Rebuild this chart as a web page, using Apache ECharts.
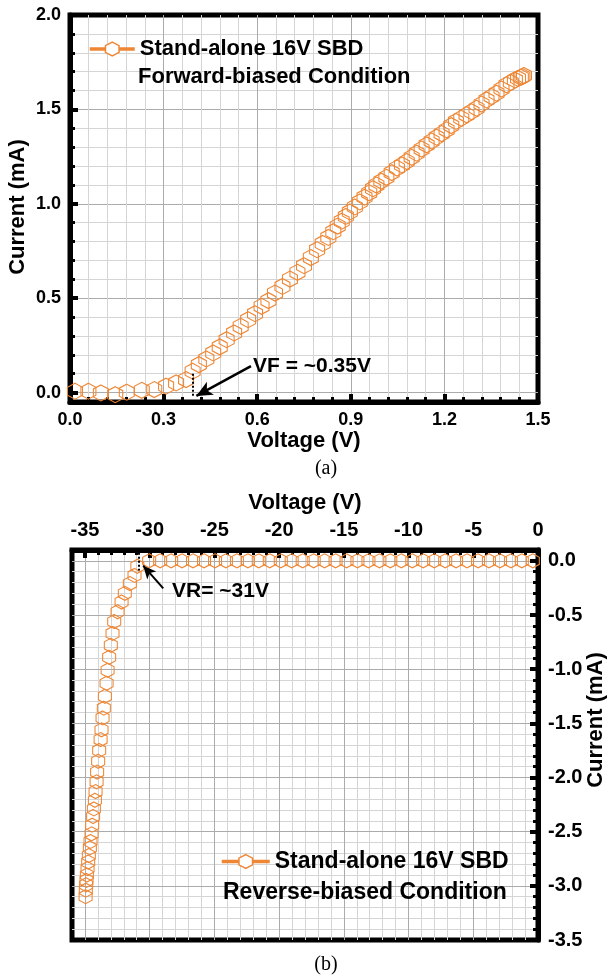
<!DOCTYPE html>
<html><head><meta charset="utf-8">
<script src="https://cdn.jsdelivr.net/npm/echarts@6/dist/echarts.min.js"></script>
<style>html,body{margin:0;padding:0;background:#fff}#c{width:615px;height:979px}</style>
</head><body><div id="c"></div>
<script>
// ---------- DATA ----------
const seriesName = 'Stand-alone 16V SBD';
const fwdCondition = 'Forward-biased Condition';
const revCondition = 'Reverse-biased Condition';

// (a) forward-biased I-V
const fwdVoltage = [0.016,0.059,0.099,0.145,0.182,0.230,0.270,0.308,0.340,0.372,
  0.393,0.413,0.437,0.459,0.480,0.502,0.526,0.547,0.571,0.593,
  0.614,0.636,0.657,0.681,0.705,0.729,0.750,0.772,0.792,0.810,
  0.828,0.844,0.858,0.871,0.884,0.897,0.913,0.929,0.944,0.959,
  0.971,0.982,0.998,1.014,1.031,1.048,1.064,1.079,1.095,1.111,
  1.127,1.143,1.159,1.175,1.191,1.207,1.222,1.237,1.254,1.271,
  1.287,1.303,1.319,1.335,1.351,1.367,1.383,1.399,1.413,1.426,
  1.436,1.445,1.450,1.455];
const fwdCurrent = [0.007,0.007,-0.002,-0.011,0.002,0.012,0.016,0.034,0.051,0.069,
  0.113,0.148,0.178,0.210,0.242,0.280,0.316,0.351,0.386,0.418,
  0.457,0.487,0.527,0.562,0.601,0.637,0.672,0.715,0.757,0.790,
  0.822,0.852,0.882,0.908,0.933,0.957,0.983,1.010,1.035,1.058,
  1.080,1.099,1.120,1.140,1.165,1.189,1.206,1.224,1.246,1.268,
  1.290,1.312,1.332,1.353,1.372,1.392,1.414,1.436,1.453,1.471,
  1.488,1.506,1.528,1.550,1.568,1.586,1.608,1.630,1.643,1.656,
  1.664,1.670,1.674,1.680];

// (b) reverse-biased I-V
const revVoltage = [-34.95,-34.93,-34.91,-34.88,-34.85,-34.80,-34.75,-34.70,-34.62,-34.57,
  -34.49,-34.44,-34.37,-34.31,-34.23,-34.18,-34.10,-34.06,-33.98,-33.90,
  -33.79,-33.72,-33.64,-33.54,-33.46,-33.33,-33.25,-33.13,-33.00,-32.87,
  -32.74,-32.48,-32.17,-31.92,-31.53,-31.17,-30.95,
  -30.04,-29.19,-28.34,-27.50,-26.65,-25.80,-24.95,-24.11,-23.26,-22.41,
  -21.57,-20.72,-19.87,-19.03,-18.18,-17.33,-16.49,-15.64,-14.79,-13.95,
  -13.10,-12.25,-11.41,-10.56,-9.71,-8.87,-8.02,-7.17,-6.33,-5.48,
  -4.63,-3.79,-2.94,-2.09,-1.25,-0.40];
const revCurrent = [-3.10,-3.04,-2.99,-2.95,-2.90,-2.84,-2.78,-2.72,-2.65,-2.59,
  -2.52,-2.44,-2.36,-2.29,-2.21,-2.13,-2.04,-1.95,-1.85,-1.75,
  -1.65,-1.56,-1.45,-1.36,-1.25,-1.13,-1.01,-0.89,-0.78,-0.67,
  -0.56,-0.47,-0.38,-0.30,-0.21,-0.135,-0.05,
  0,0,0,0,0,0,0,0,0,0,
  0,0,0,0,0,0,0,0,0,0,
  0,0,0,0,0,0,0,0,0,0,
  0,0,0,0,0,0];

// tick values
const fwdYTicks = [0, 0.5, 1.0, 1.5, 2.0];
const fwdYMinorTicks = [0,0.1,0.2,0.3,0.4,0.5,0.6,0.7,0.8,0.9,1.0,1.1,1.2,1.3,1.4,1.5,1.6,1.7,1.8,1.9,2.0];
const revXTicks = [-35, -30, -25, -20, -15, -10, -5, 0];
const revYTicks = [-3.5, -3.0, -2.5, -2.0, -1.5, -1.0, -0.5, 0.0];

// annotations (data coordinates)
const vfDotted = [[0.393, 0.10], [0.393, -0.025]];
const vfArrow = [[0.580, 0.140], [0.405, -0.018]];
const vrDotted = [[-30.85, 0.075], [-30.85, -0.09]];
const vrArrow = [[-28.95, -0.255], [-30.50, -0.045]];
const vfText = 'VF = ~0.35V';
const vrText = 'VR= ~31V';

// ---------- STYLE ----------
const ORANGE = '#EE8735';
const MINOR = '#d5d5d5';
const MAJOR = '#ababab';
const FONT = '"Liberation Sans", Arial, sans-serif';
const hex = 'path://M0,-10 L8.66,-5 L8.66,5 L0,10 L-8.66,5 L-8.66,-5 Z';

const chart = echarts.init(document.getElementById('c'), null, {renderer: 'canvas'});

function lbl(size) { return {color: '#000', fontFamily: FONT, fontWeight: 'bold', fontSize: size}; }
const axLine = {show: true, onZero: false, lineStyle: {color: '#000', width: 5}};
const noLine = {show: false, onZero: false};
const majTick = (vals) => ({show: true, inside: true, length: 8, lineStyle: {color: '#000', width: 4}, customValues: vals});
const minTick = (vals) => ({show: true, inside: true, length: 5, lineStyle: {color: '#000', width: 3}, customValues: vals});

const option = {
  animation: false,
  backgroundColor: '#fff',
  grid: [
    {left: 70, right: 77, top: 15, bottom: 577, show: true, borderColor: '#000', borderWidth: 5, backgroundColor: 'transparent', outerBoundsMode: 'none'},
    {left: 72, right: 77, top: 550, bottom: 39, show: true, borderColor: '#000', borderWidth: 5, backgroundColor: 'transparent', outerBoundsMode: 'none'}
  ],
  xAxis: [
    { // (a) voltage
      gridIndex: 0, type: 'value', min: 0, max: 1.5, interval: 0.3, position: 'bottom', z: 2,
      axisLine: axLine,
      axisTick: {show: true, inside: true, length: 8, lineStyle: {color: '#000', width: 4}},
      minorTick: {show: true, splitNumber: 5, length: 5, lineStyle: {color: '#000', width: 3}},
      splitLine: {show: true, showMinLine: false, showMaxLine: false, lineStyle: {color: MAJOR, width: 1}},
      minorSplitLine: {show: true, lineStyle: {color: MINOR, width: 1}},
      axisLabel: Object.assign({margin: 9, formatter: v => v.toFixed(1)}, lbl(18)),
      name: 'Voltage (V)', nameLocation: 'middle', nameGap: 27, nameTextStyle: lbl(22)
    },
    { // (b) voltage major
      gridIndex: 1, type: 'value', min: -36, max: 0, position: 'top', z: 2,
      axisLine: axLine,
      axisTick: majTick(revXTicks),
      splitLine: {show: true, showMinLine: true, showMaxLine: false, lineStyle: {color: MAJOR, width: 1}},
      axisLabel: Object.assign({margin: 10, customValues: revXTicks, formatter: v => String(Math.round(v))}, lbl(20)),
      name: 'Voltage (V)', nameLocation: 'middle', nameGap: 36, nameTextStyle: lbl(22)
    },
    { // (b) voltage minor
      gridIndex: 1, type: 'value', min: -36, max: 0, interval: 1, position: 'top', z: 1,
      axisLine: noLine,
      axisTick: {show: true, inside: true, length: 5, lineStyle: {color: '#000', width: 3}},
      splitLine: {show: true, showMinLine: false, showMaxLine: false, lineStyle: {color: MINOR, width: 1}},
      axisLabel: {show: false}
    }
  ],
  yAxis: [
    { // (a) current major
      gridIndex: 0, type: 'value', min: -0.05, max: 2.0, position: 'left', z: 2,
      axisLine: axLine,
      axisTick: majTick(fwdYTicks),
      splitLine: {show: true, showMinLine: true, showMaxLine: false, lineStyle: {color: MAJOR, width: 1}},
      axisLabel: Object.assign({margin: 9, customValues: fwdYTicks, formatter: v => v.toFixed(1)}, lbl(18))
    },
    { // (a) current minor
      gridIndex: 0, type: 'value', min: -0.05, max: 2.0, position: 'left', z: 1,
      axisLine: noLine,
      axisTick: minTick(fwdYMinorTicks),
      splitLine: {show: true, showMinLine: true, showMaxLine: false, lineStyle: {color: MINOR, width: 1}},
      axisLabel: {show: false}
    },
    { // (b) current major
      gridIndex: 1, type: 'value', min: -3.5, max: 0.1, position: 'right', z: 2,
      axisLine: axLine,
      axisTick: majTick(revYTicks),
      splitLine: {show: true, showMinLine: false, showMaxLine: true, lineStyle: {color: MAJOR, width: 1}},
      axisLabel: Object.assign({margin: 10, customValues: revYTicks, formatter: v => v.toFixed(1)}, lbl(20))
    },
    { // (b) current minor
      gridIndex: 1, type: 'value', min: -3.5, max: 0.1, interval: 0.1, position: 'right', z: 1,
      axisLine: noLine,
      axisTick: {show: true, inside: true, length: 5, lineStyle: {color: '#000', width: 3}},
      splitLine: {show: true, showMinLine: false, showMaxLine: false, lineStyle: {color: MINOR, width: 1}},
      axisLabel: {show: false}
    }
  ],
  legend: [
    {
      data: [seriesName], left: 88, top: 38, padding: 0, itemWidth: 45, itemHeight: 17, selectedMode: false,
      textStyle: lbl(22),
      lineStyle: {color: ORANGE, width: 3.5, opacity: 1},
      itemStyle: {color: '#fff', borderColor: ORANGE, borderWidth: 1.5, opacity: 1}
    },
    {
      data: [seriesName], left: 220, top: 850, padding: 0, itemWidth: 48, itemHeight: 17, selectedMode: false,
      textStyle: lbl(23),
      lineStyle: {color: ORANGE, width: 3.5, opacity: 1},
      itemStyle: {color: '#fff', borderColor: ORANGE, borderWidth: 1.5, opacity: 1}
    }
  ],
  series: [
    {
      name: seriesName, type: 'line', xAxisIndex: 0, yAxisIndex: 0, z: 3,
      data: fwdVoltage.map((v, i) => [v, fwdCurrent[i]]),
      symbol: hex, symbolSize: [15, 16], showAllSymbol: true, color: ORANGE,
      lineStyle: {width: 0, opacity: 0},
      itemStyle: {color: 'rgba(0,0,0,0)', borderColor: ORANGE, borderWidth: 1.1},
      emphasis: {disabled: true},
      markLine: {
        silent: true, animation: false, label: {show: false},
        data: [
          [{coord: vfDotted[0], symbol: 'none', lineStyle: {color: '#000', width: 2, type: [2, 2]}}, {coord: vfDotted[1], symbol: 'none'}],
          [{coord: vfArrow[0], symbol: 'none', lineStyle: {color: '#000', width: 2.5, type: 'solid'}}, {coord: vfArrow[1], symbol: 'arrow', symbolSize: [11, 16]}]
        ]
      }
    },
    {
      name: seriesName, type: 'line', xAxisIndex: 1, yAxisIndex: 2, z: 3,
      data: revVoltage.map((v, i) => [v, revCurrent[i]]),
      symbol: hex, symbolSize: [13, 14], showAllSymbol: true, color: ORANGE,
      lineStyle: {width: 0, opacity: 0},
      itemStyle: {color: 'rgba(0,0,0,0)', borderColor: ORANGE, borderWidth: 1.1},
      emphasis: {disabled: true},
      markLine: {
        silent: true, animation: false, label: {show: false},
        data: [
          [{coord: vrDotted[0], symbol: 'none', lineStyle: {color: '#000', width: 2, type: [2, 2]}}, {coord: vrDotted[1], symbol: 'none'}],
          [{coord: vrArrow[0], symbol: 'none', lineStyle: {color: '#000', width: 2, type: 'solid'}}, {coord: vrArrow[1], symbol: 'arrow', symbolSize: [9, 13]}]
        ]
      }
    }
  ],
  graphic: [
    {type: 'text', z: 20, x: 138, y: 77, style: {text: fwdCondition, fill: '#000', font: 'bold 22px ' + FONT, verticalAlign: 'middle', align: 'left'}},
    {type: 'text', z: 20, x: 223, y: 893, style: {text: revCondition, fill: '#000', font: 'bold 23px ' + FONT, verticalAlign: 'middle', align: 'left'}},
    {type: 'text', z: 20, x: 253, y: 366, style: {text: vfText, fill: '#000', font: 'bold 21px ' + FONT, verticalAlign: 'middle', align: 'left'}},
    {type: 'text', z: 20, x: 172, y: 591, style: {text: vrText, fill: '#000', font: 'bold 21px ' + FONT, verticalAlign: 'middle', align: 'left'}},
    {type: 'text', z: 20, x: 18, y: 207, rotation: Math.PI / 2, style: {text: 'Current (mA)', fill: '#000', font: 'bold 22px ' + FONT, verticalAlign: 'middle', align: 'center'}},
    {type: 'text', z: 20, x: 596, y: 720, rotation: Math.PI / 2, style: {text: 'Current (mA)', fill: '#000', font: 'bold 22px ' + FONT, verticalAlign: 'middle', align: 'center'}},
    {type: 'text', z: 20, x: 326, y: 469, style: {text: '(a)', fill: '#000', font: '20px "Liberation Serif", "Times New Roman", serif', verticalAlign: 'middle', align: 'center'}},
    {type: 'text', z: 20, x: 326, y: 965, style: {text: '(b)', fill: '#000', font: '20px "Liberation Serif", "Times New Roman", serif', verticalAlign: 'middle', align: 'center'}}
  ]
};
chart.setOption(option);
</script>
</body></html>
